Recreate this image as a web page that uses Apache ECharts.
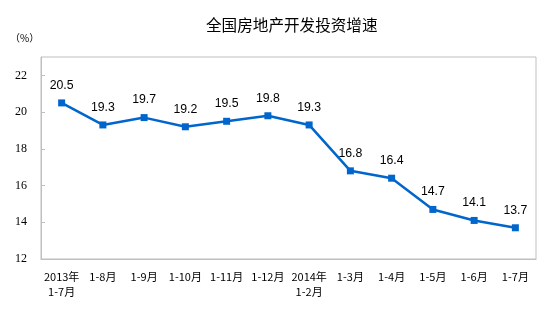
<!DOCTYPE html>
<html>
<head>
<meta charset="utf-8">
<script src="https://cdn.jsdelivr.net/npm/echarts@6/dist/echarts.min.js"></script>
<style>
  html, body { margin: 0; padding: 0; background: #fff; }
  #chart { width: 554px; height: 335px; }
</style>
</head>
<body>
<div id="chart"></div>
<script>
// Cumulative year-on-year growth of national real-estate development investment (%)
const categories = [
  '2013年\n1-7月', '1-8月', '1-9月', '1-10月', '1-11月', '1-12月',
  '2014年\n1-2月', '1-3月', '1-4月', '1-5月', '1-6月', '1-7月'
];
const growth = [20.5, 19.3, 19.7, 19.2, 19.5, 19.8, 19.3, 16.8, 16.4, 14.7, 14.1, 13.7];
const titleText = '全国房地产开发投资增速';
const unitText = '（%）';
const yMin = 12, yMax = 23, yStep = 2;

const axisGray = '#BFBFBF';
const lineBlue = '#0066CC';

const chart = echarts.init(document.getElementById('chart'), null, { renderer: 'canvas' });
chart.setOption({
  backgroundColor: '#ffffff',
  animation: false,
  graphic: [
    {
      type: 'text', left: 206, top: 17,
      style: { text: titleText, fill: '#000', font: '15.6px "Noto Sans CJK SC", sans-serif' }
    },
    {
      type: 'text', left: 10, top: 33,
      style: { text: unitText, fill: '#000', font: '10px "Noto Sans CJK SC", sans-serif' }
    }
  ],
  grid: {
    left: 41, right: 18, top: 57, bottom: 76,
    show: true, borderColor: axisGray, borderWidth: 1, backgroundColor: 'transparent'
  },
  xAxis: {
    type: 'category',
    data: categories,
    boundaryGap: true,
    axisLine: { lineStyle: { color: axisGray, width: 1 } },
    axisTick: { inside: true, length: 4, lineStyle: { color: axisGray } },
    axisLabel: {
      interval: 0, margin: 10, color: '#000', fontSize: 11, lineHeight: 15,
      fontFamily: '"Noto Sans CJK SC", sans-serif'
    },
    splitLine: { show: false }
  },
  yAxis: {
    type: 'value',
    min: yMin, max: yMax, interval: yStep,
    axisLine: { show: true, lineStyle: { color: axisGray, width: 1 } },
    axisTick: { show: true, inside: true, length: 4, lineStyle: { color: axisGray } },
    axisLabel: {
      showMaxLabel: false, margin: 14, color: '#000', fontSize: 12,
      fontFamily: '"Liberation Serif", serif'
    },
    splitLine: { show: false }
  },
  series: [{
    type: 'line',
    data: growth,
    symbol: 'rect',
    symbolSize: 7,
    lineStyle: { color: lineBlue, width: 2.5 },
    itemStyle: { color: lineBlue },
    label: {
      show: true, position: 'top', distance: 8,
      color: '#000', fontSize: 12.3, fontFamily: '"Liberation Sans", Arial, sans-serif',
      formatter: p => p.value.toFixed(1)
    }
  }]
});
</script>
</body>
</html>
